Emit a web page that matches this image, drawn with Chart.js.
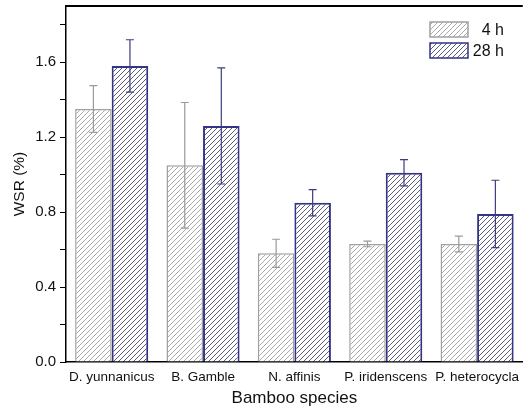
<!DOCTYPE html>
<html>
<head>
<meta charset="utf-8">
<script src="https://cdn.jsdelivr.net/npm/chart.js@4/dist/chart.umd.min.js"></script>
<style>
  body { margin: 0; background: #fff; }
  canvas { display: block; }
</style>
</head>
<body>
<canvas id="wsr-chart" width="526" height="413"></canvas>
<script>
// Daten
var categories = ['D. yunnanicus', 'B. Gamble', 'N. affinis', 'P. iridenscens', 'P. heterocycla'];
var wsr4h  = [1.35, 1.05, 0.58, 0.63, 0.63];
var err4h  = [0.125, 0.335, 0.075, 0.015, 0.042];
var wsr28h = [1.58, 1.26, 0.85, 1.01, 0.79];
var err28h = [0.14, 0.31, 0.07, 0.07, 0.18];
var yTickValues = [0, 0.2, 0.4, 0.6, 0.8, 1.0, 1.2, 1.4, 1.6, 1.8];
var yTickLabels = ['0.0', '', '0.4', '', '0.8', '', '1.2', '', '1.6', ''];

// Schraffur-Muster
function makeHatch(lineColor, size) {
    var c = document.createElement('canvas');
    c.width = size; c.height = size;
    var g = c.getContext('2d');
    g.fillStyle = '#fff';
    g.fillRect(0, 0, size, size);
    g.strokeStyle = lineColor;
    g.lineWidth = 1;
    g.beginPath();
    g.moveTo(0, size); g.lineTo(size, 0);
    g.moveTo(-1, 1); g.lineTo(1, -1);
    g.moveTo(size - 1, size + 1); g.lineTo(size + 1, size - 1);
    g.stroke();
    return g.createPattern(c, 'repeat');
}

var hatch4h = makeHatch('#a9a9a9', 5);
var hatch28h = makeHatch('#5c5c78', 5);

// Fehlerbalken
var errorBars = {
    id: 'errorBars',
    afterDatasetsDraw: function(chart) {
        var ctx = chart.ctx;
        var yScale = chart.scales.y;
        chart.data.datasets.forEach(function(ds, i) {
            var meta = chart.getDatasetMeta(i);
            meta.data.forEach(function(bar, j) {
                var v = ds.data[j], e = ds.errors[j];
                var yt = yScale.getPixelForValue(v + e);
                var yb = yScale.getPixelForValue(v - e);
                ctx.save();
                ctx.strokeStyle = ds.errorColor;
                ctx.lineWidth = 1.2;
                ctx.beginPath();
                ctx.moveTo(bar.x, yt); ctx.lineTo(bar.x, yb);
                ctx.moveTo(bar.x - 4, yt); ctx.lineTo(bar.x + 4, yt);
                ctx.moveTo(bar.x - 4, yb); ctx.lineTo(bar.x + 4, yb);
                ctx.stroke();
                ctx.restore();
            });
        });
    }
};

// Rahmen oben + Legende
var frameLegend = {
    id: 'frameLegend',
    afterDraw: function(chart) {
        var ctx = chart.ctx;
        var a = chart.chartArea;
        ctx.save();
        ctx.strokeStyle = '#000';
        ctx.lineWidth = 2;
        ctx.beginPath();
        ctx.moveTo(a.left, a.top); ctx.lineTo(a.right, a.top);
        ctx.stroke();

        ctx.font = '16px "Liberation Sans", Arial, sans-serif';
        ctx.textAlign = 'right';
        ctx.textBaseline = 'middle';
        chart.data.datasets.forEach(function(ds, i) {
            var bx = 430, by = 22 + i * 21, bw = 38, bh = 15;
            ctx.fillStyle = ds.backgroundColor;
            ctx.fillRect(bx, by, bw, bh);
            ctx.strokeStyle = ds.borderColor;
            ctx.lineWidth = 1.5;
            ctx.strokeRect(bx, by, bw, bh);
            ctx.fillStyle = '#111';
            ctx.fillText(ds.label, 504, by + bh / 2 + 1);
        });
        ctx.restore();
    }
};

var wsrChart = new Chart(document.getElementById('wsr-chart'), {
    type: 'bar',
    data: {
        labels: categories,
        datasets: [{
            label: '4 h',
            data: wsr4h,
            errors: err4h,
            errorColor: '#9a9a9a',
            backgroundColor: hatch4h,
            borderColor: '#a0a0a0',
            borderWidth: 1.5,
            categoryPercentage: 0.8,
            barPercentage: 1.0
        }, {
            label: '28 h',
            data: wsr28h,
            errors: err28h,
            errorColor: '#3c3c80',
            backgroundColor: hatch28h,
            borderColor: '#333388',
            borderWidth: 2,
            categoryPercentage: 0.8,
            barPercentage: 1.0
        }]
    },
    options: {
        responsive: false,
        animation: false,
        layout: { padding: { top: 6, right: 0, bottom: 0, left: 0 } },
        plugins: {
            legend: { display: false },
            tooltip: { enabled: false }
        },
        scales: {
            x: {
                grid: { display: false, drawTicks: false },
                border: { display: true, color: '#000', width: 1.5 },
                ticks: {
                    color: '#111',
                    padding: 7,
                    maxRotation: 0,
                    font: { family: '"Liberation Sans", Arial, sans-serif', size: 13.5 }
                },
                title: {
                    display: true,
                    text: 'Bamboo species',
                    color: '#111',
                    padding: { top: 4, bottom: 4 },
                    font: { family: '"Liberation Sans", Arial, sans-serif', size: 17 }
                },
                afterFit: function(scale) { scale.height = 51; }
            },
            y: {
                min: 0,
                max: 1.9,
                afterBuildTicks: function(scale) {
                    scale.ticks = yTickValues.map(function(v) { return { value: v }; });
                },
                grid: {
                    drawOnChartArea: false,
                    drawTicks: true,
                    tickLength: 6,
                    color: '#000',
                    lineWidth: 1
                },
                border: { display: true, color: '#000', width: 1.5 },
                ticks: {
                    color: '#111',
                    padding: 4,
                    font: { family: '"Liberation Sans", Arial, sans-serif', size: 15 },
                    callback: function(value, index) { return yTickLabels[index]; }
                },
                title: {
                    display: true,
                    text: 'WSR (%)',
                    color: '#111',
                    padding: { top: 10, bottom: 4 },
                    font: { family: '"Liberation Sans", Arial, sans-serif', size: 15.5 }
                },
                afterFit: function(scale) {
                    scale.width = 66;
                    scale.paddingTop = 0;
                    scale.paddingBottom = 0;
                }
            }
        }
    },
    plugins: [errorBars, frameLegend]
});
</script>
</body>
</html>
